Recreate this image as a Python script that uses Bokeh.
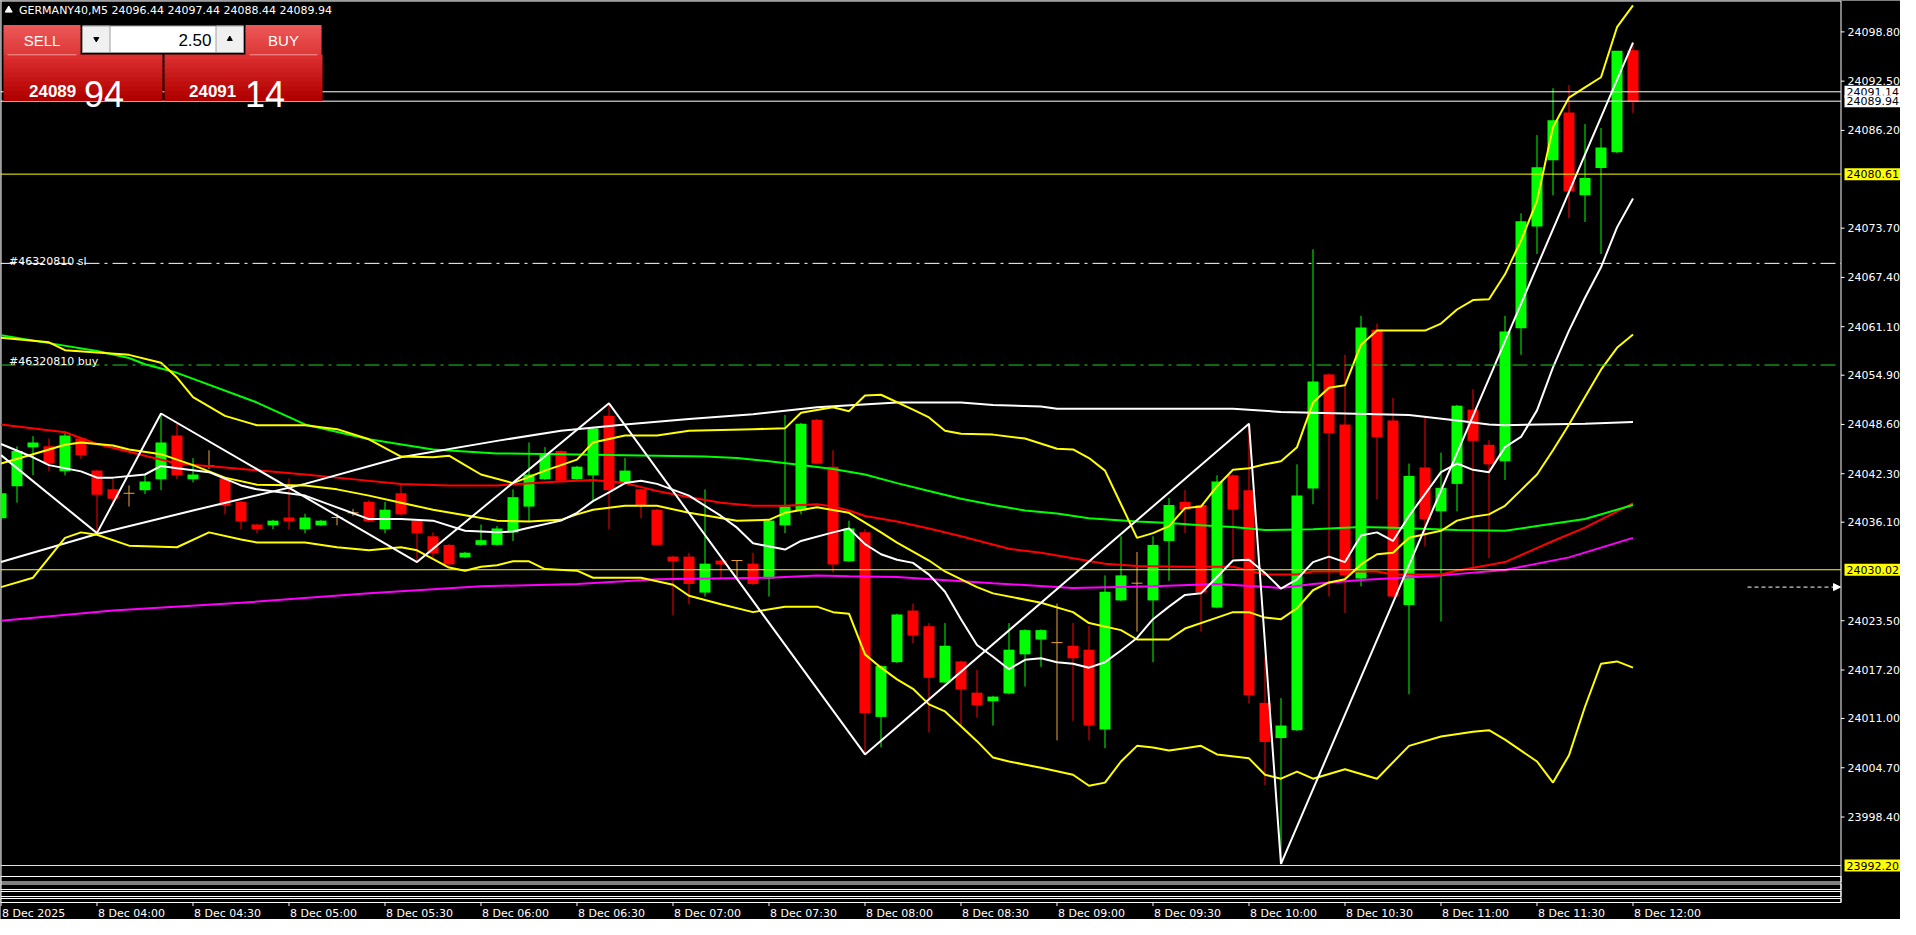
import numpy as np
from bokeh.plotting import figure
from bokeh.models import Range1d, Label, Arrow, NormalHead
from bokeh.embed import file_html
from bokeh.resources import INLINE

# ------------------------------------------------------------------ data
symbol = "GERMANY40,M5"
header_prices = ["24096.44", "24097.44", "24088.44", "24089.94"]
lot_size = "2.50"
bid_price = 24089.94
ask_price = 24091.14
bid_text = ("24089", "94")
ask_text = ("24091", "14")

bars = list(range(103))
opens = [24036.6, 24040.7, 24045.7, 24045.8, 24042.6, 24046.8, 24042.7, 24040.3, 24039.8, 24040.2,
         24041.6, 24047.2, 24041.6, 24043.3, 24041.7, 24038.7, 24035.8, 24035.7, 24036.7, 24035.2,
         24035.7, 24036.7, 24037.3, 24038.7, 24035.2, 24039.8, 24036.3, 24034.3, 24033.2, 24031.6,
         24033.2, 24033.2, 24034.8, 24038.1, 24041.6, 24045.2, 24041.6, 24042.1, 24049.7, 24041.2,
         24040.3, 24037.7, 24031.7, 24031.7, 24027.1, 24031.2, 24031.2, 24030.8, 24028.9, 24035.7,
         24037.6, 24049.2, 24043.2, 24031.1, 24034.8, 24011.2, 24018.2, 24024.8, 24022.8, 24015.6,
         24018.3, 24014.3, 24013.2, 24014.2, 24019.2, 24021.1, 24020.7, 24020.3, 24019.8, 24009.6,
         24026.1, 24028.3, 24026.1, 24033.7, 24038.7, 24038.3, 24025.2, 24042.1, 24040.2, 24013.0,
         24008.5, 24009.5, 24040.4, 24055.0, 24048.6, 24028.9, 24060.7, 24049.1, 24025.5, 24043.1,
         24037.5, 24041.0, 24050.5, 24046.0, 24043.9, 24060.9, 24073.9, 24082.4, 24088.5, 24077.9,
         24081.4, 24083.4, 24096.44]
highs = [24040.5, 24045.8, 24047.1, 24046.8, 24047.7, 24046.9, 24042.8, 24041.6, 24040.8, 24042.2,
         24050.0, 24048.7, 24044.3, 24045.3, 24041.8, 24038.8, 24035.9, 24036.4, 24041.7, 24037.2,
         24036.4, 24037.2, 24037.8, 24038.9, 24038.7, 24041.0, 24036.4, 24034.8, 24033.3, 24032.3,
         24035.8, 24035.6, 24040.3, 24046.3, 24045.7, 24045.3, 24043.3, 24048.2, 24051.3, 24044.3,
         24040.4, 24037.8, 24031.8, 24032.2, 24040.3, 24031.3, 24031.2, 24032.2, 24036.4, 24049.8,
         24048.8, 24049.3, 24045.3, 24036.3, 24035.2, 24017.8, 24024.4, 24025.7, 24023.2, 24023.2,
         24018.4, 24017.2, 24013.9, 24023.2, 24022.4, 24022.4, 24025.7, 24023.2, 24022.8, 24029.3,
         24034.3, 24032.3, 24034.3, 24039.2, 24040.2, 24038.4, 24042.1, 24042.2, 24048.7, 24018.9,
         24013.6, 24043.5, 24071.0, 24055.1, 24057.5, 24062.5, 24061.5, 24052.0, 24043.6, 24049.5,
         24045.0, 24051.1, 24053.1, 24046.6, 24062.5, 24075.6, 24085.6, 24091.6, 24092.0, 24087.0,
         24086.5, 24096.1, 24097.44]
lows = [24036.4, 24038.6, 24042.1, 24042.6, 24042.1, 24044.2, 24034.7, 24038.2, 24038.1, 24039.7,
        24040.2, 24041.6, 24041.2, 24042.9, 24037.1, 24035.2, 24034.7, 24035.2, 24035.2, 24034.7,
        24035.6, 24035.7, 24036.9, 24036.1, 24034.7, 24037.0, 24031.0, 24031.6, 24030.6, 24031.5,
        24033.1, 24033.1, 24033.7, 24036.2, 24041.5, 24041.3, 24041.5, 24038.8, 24035.2, 24041.1,
        24036.6, 24033.1, 24024.2, 24025.6, 24026.6, 24028.9, 24028.9, 24028.1, 24026.6, 24034.7,
        24037.1, 24043.5, 24029.7, 24031.0, 24006.4, 24007.3, 24018.1, 24020.6, 24009.2, 24015.5,
        24010.0, 24011.1, 24010.1, 24014.1, 24015.1, 24017.6, 24008.2, 24010.7, 24008.2, 24007.2,
        24026.0, 24022.1, 24018.2, 24028.6, 24034.7, 24022.1, 24025.1, 24031.5, 24012.9, 24002.5,
        23992.4, 24009.4, 24038.4, 24026.6, 24024.5, 24027.9, 24039.0, 24026.5, 24014.1, 24033.0,
        24023.4, 24037.5, 24030.1, 24031.5, 24041.5, 24057.5, 24070.4, 24077.9, 24075.0, 24074.5,
        24070.4, 24083.3, 24088.44]
closes = [24039.8, 24045.2, 24046.3, 24043.6, 24047.2, 24044.7, 24039.6, 24039.1, 24039.8, 24041.3,
          24046.3, 24042.1, 24042.2, 24043.3, 24038.2, 24036.2, 24035.2, 24036.3, 24036.2, 24036.7,
          24036.3, 24036.7, 24037.3, 24036.2, 24037.7, 24037.1, 24034.7, 24032.1, 24030.7, 24032.2,
          24033.8, 24035.3, 24039.3, 24042.2, 24044.7, 24041.4, 24043.2, 24048.1, 24040.2, 24042.7,
          24038.2, 24033.2, 24031.1, 24028.2, 24030.8, 24030.7, 24031.2, 24028.2, 24036.3, 24038.1,
          24048.7, 24043.6, 24030.7, 24035.3, 24011.7, 24017.7, 24024.3, 24021.6, 24016.2, 24020.3,
          24014.7, 24012.7, 24013.8, 24019.8, 24022.3, 24022.3, 24020.7, 24018.7, 24010.1, 24027.2,
          24029.3, 24028.3, 24033.2, 24038.3, 24037.7, 24027.1, 24041.3, 24037.7, 24014.0, 24008.0,
          24010.1, 24039.5, 24054.1, 24047.5, 24029.3, 24061.0, 24047.0, 24026.6, 24042.0, 24036.5,
          24040.5, 24051.0, 24046.5, 24043.5, 24060.5, 24074.6, 24081.5, 24087.5, 24078.4, 24080.1,
          24084.0, 24096.4, 24089.94]

time_tick_bars = [0, 6, 12, 18, 24, 30, 36, 42, 48, 54, 60, 66, 72, 78, 84, 90, 96, 102]
time_tick_labels = ["8 Dec 2025", "8 Dec 04:00", "8 Dec 04:30", "8 Dec 05:00", "8 Dec 05:30",
                    "8 Dec 06:00", "8 Dec 06:30", "8 Dec 07:00", "8 Dec 07:30", "8 Dec 08:00",
                    "8 Dec 08:30", "8 Dec 09:00", "8 Dec 09:30", "8 Dec 10:00", "8 Dec 10:30",
                    "8 Dec 11:00", "8 Dec 11:30", "8 Dec 12:00"]
price_ticks = [24098.80, 24092.50, 24086.20, 24073.70, 24067.40, 24061.10, 24054.90, 24048.60,
               24042.30, 24036.10, 24023.50, 24017.20, 24011.00, 24004.70, 23998.40]

bb_upper_bars = [0, 3, 4, 6, 8, 10, 11, 12, 14, 16, 18, 19, 21, 23, 25, 27, 28, 29, 30, 32,
                 34, 36, 37, 39, 41, 43, 47, 49, 50, 52, 53, 54, 55, 57, 58, 59, 60, 62, 64, 66,
                 67, 68, 69, 70, 71, 72, 73, 74, 75, 76, 77, 78, 79, 80, 81, 82, 83, 84, 85, 86,
                 89, 90, 91, 92, 93, 94, 95, 96, 97, 98, 99, 100, 101, 102]
bb_upper = [24059.7, 24059.1, 24058.1, 24057.8, 24057.5, 24056.5, 24054.6, 24052.1, 24049.7, 24048.5,
            24048.5, 24048.5, 24048.0, 24046.7, 24044.5, 24044.4, 24044.6, 24043.4, 24042.2, 24041.1,
            24042.7, 24044.1, 24046.3, 24047.2, 24047.2, 24047.8, 24048.0, 24048.1, 24050.1, 24050.8,
            24050.3, 24052.3, 24052.4, 24050.5, 24049.5, 24047.8, 24047.4, 24047.3, 24046.8, 24045.5,
            24045.4, 24044.3, 24042.7, 24038.4, 24034.1, 24034.7, 24035.6, 24037.9, 24038.1, 24040.7,
            24042.8, 24043.0, 24043.5, 24043.9, 24045.7, 24051.4, 24053.3, 24053.6, 24058.8, 24060.6,
            24060.6, 24061.5, 24063.3, 24064.5, 24064.6, 24067.8, 24072.1, 24077.2, 24086.6, 24090.4,
            24091.7, 24093.0, 24099.4, 24102.2]
bb_mid_bars = [0, 2, 4, 5, 7, 8, 10, 11, 12, 14, 16, 19, 21, 23, 25, 27, 29, 31, 33, 35,
               36, 37, 39, 41, 43, 46, 48, 49, 51, 53, 55, 56, 58, 59, 61, 62, 65, 67, 68, 70,
               71, 73, 74, 76, 77, 78, 79, 80, 81, 82, 83, 84, 85, 86, 87, 88, 90, 91, 92, 93,
               94, 95, 96, 97, 98, 99, 100, 101, 102]
bb_mid = [24043.6, 24044.8, 24046.0, 24046.3, 24045.9, 24045.4, 24044.8, 24044.1, 24043.4, 24041.8,
          24040.9, 24040.8, 24040.3, 24039.5, 24038.6, 24037.7, 24037.0, 24036.3, 24036.2, 24036.4,
          24037.1, 24037.7, 24038.2, 24038.2, 24037.3, 24036.3, 24036.4, 24037.3, 24038.0, 24037.3,
          24034.8, 24033.5, 24031.2, 24029.8, 24027.8, 24027.0, 24025.8, 24024.6, 24023.2, 24022.3,
          24021.1, 24021.1, 24022.5, 24023.9, 24024.6, 24024.6, 24023.9, 24023.7, 24025.1, 24027.4,
          24028.4, 24028.8, 24030.7, 24032.0, 24032.2, 24034.1, 24035.0, 24036.3, 24036.8, 24037.1,
          24038.2, 24040.2, 24042.2, 24045.3, 24048.6, 24052.1, 24055.6, 24058.4, 24060.1]
bb_lower_bars = [0, 2, 4, 5, 6, 8, 11, 13, 15, 16, 19, 21, 23, 25, 26, 28, 29, 30, 31, 32,
                 33, 34, 36, 37, 40, 42, 43, 45, 47, 49, 51, 52, 53, 54, 55, 56, 57, 58, 59, 60,
                 61, 62, 63, 65, 67, 68, 69, 70, 71, 72, 73, 74, 75, 76, 78, 79, 80, 81, 82, 84,
                 86, 88, 90, 92, 93, 94, 96, 97, 98, 99, 100, 101, 102]
bb_lower = [24027.8, 24029.0, 24034.1, 24034.8, 24034.5, 24033.1, 24032.9, 24034.8, 24033.9, 24033.5,
            24033.5, 24032.9, 24032.5, 24032.9, 24032.5, 24030.3, 24029.9, 24030.4, 24030.6, 24031.1,
            24031.1, 24030.1, 24029.9, 24029.0, 24029.0, 24028.1, 24026.7, 24025.6, 24024.6, 24025.3,
            24025.3, 24024.6, 24024.4, 24019.2, 24017.5, 24016.0, 24014.8, 24012.8, 24011.9, 24010.0,
            24008.1, 24006.0, 24005.5, 24004.7, 24003.8, 24002.4, 24002.8, 24005.5, 24007.5, 24007.3,
            24006.9, 24007.2, 24007.5, 24006.4, 24005.9, 24003.8, 24003.3, 24004.2, 24003.3, 24004.5,
            24003.3, 24007.5, 24008.7, 24009.3, 24009.5, 24008.3, 24005.5, 24002.8, 24006.3, 24012.5,
            24018.0, 24018.3, 24017.5]
ma_green_bars = [0, 3, 6, 8, 9, 11, 16, 19, 23, 27, 31, 35, 41, 44, 46, 48, 50, 52, 54, 56,
                 58, 60, 62, 64, 66, 68, 71, 73, 75, 77, 79, 82, 85, 87, 91, 94, 96, 99, 102]
ma_green = [24060.0, 24059.0, 24058.0, 24057.1, 24056.3, 24055.2, 24051.4, 24048.6, 24046.7, 24045.4,
            24044.9, 24044.8, 24044.6, 24044.5, 24044.3, 24043.9, 24043.4, 24042.9, 24042.2, 24041.1,
            24040.1, 24039.1, 24038.3, 24037.6, 24037.2, 24036.6, 24036.2, 24036.0, 24035.7, 24035.5,
            24035.1, 24035.2, 24035.5, 24035.4, 24035.1, 24035.0, 24035.6, 24036.5, 24038.3]
ma_red_bars = [0, 4, 6, 9, 11, 14, 19, 21, 25, 28, 31, 34, 37, 39, 41, 43, 45, 47, 49, 51,
               52, 53, 54, 56, 58, 60, 63, 65, 67, 69, 71, 74, 77, 79, 81, 82, 86, 87, 90, 91,
               94, 97, 99, 102]
ma_red = [24048.6, 24047.6, 24046.1, 24044.6, 24043.6, 24043.1, 24042.2, 24041.8, 24041.0, 24040.8,
          24040.8, 24041.2, 24041.5, 24041.1, 24040.1, 24039.3, 24038.6, 24038.2, 24038.2, 24038.4,
          24038.1, 24037.6, 24036.9, 24036.2, 24035.3, 24034.3, 24032.7, 24032.2, 24031.5, 24030.8,
          24030.5, 24030.4, 24030.4, 24029.4, 24029.4, 24029.8, 24029.8, 24029.4, 24029.4, 24029.9,
          24031.0, 24033.7, 24035.4, 24038.5]
ma_magenta_bars = [0, 7, 15, 23, 30, 36, 41, 48, 51, 53, 56, 62, 67, 72, 76, 80, 82, 85, 90, 94, 98, 102]
ma_magenta = [24023.5, 24024.8, 24025.8, 24027.0, 24027.9, 24028.2, 24028.8, 24029.0, 24029.3, 24029.2,
              24029.1, 24028.3, 24027.7, 24027.9, 24028.2, 24027.7, 24028.2, 24028.7, 24029.3, 24030.0,
              24031.6, 24034.1]
ma_slow_white_bars = [0, 6, 12, 19, 25, 31, 35, 39, 43, 47, 51, 56, 60, 62, 65, 66, 77, 80, 86, 88,
                      91, 93, 94, 99, 102]
ma_slow_white = [24031.0, 24034.6, 24037.6, 24041.0, 24044.4, 24046.5, 24047.8, 24048.6, 24049.3, 24049.9,
                 24050.8, 24051.4, 24051.4, 24051.1, 24050.9, 24050.6, 24050.6, 24050.2, 24049.9, 24049.8,
                 24049.1, 24048.6, 24048.5, 24048.7, 24048.9]
ma_fast_white_bars = [0, 2, 3, 5, 6, 7, 9, 10, 11, 13, 15, 16, 19, 21, 23, 25, 27, 29, 31, 32,
                      33, 35, 36, 37, 38, 39, 40, 41, 43, 45, 46, 47, 49, 50, 52, 53, 54, 55, 56, 57,
                      58, 59, 60, 61, 62, 63, 64, 65, 66, 67, 68, 69, 70, 71, 72, 73, 74, 75, 76, 77,
                      78, 79, 80, 81, 82, 83, 84, 85, 86, 87, 88, 89, 90, 91, 92, 93, 94, 95, 96, 97,
                      98, 99, 100, 101, 102]
ma_fast_white = [24046.1, 24044.4, 24043.4, 24042.6, 24041.8, 24041.8, 24042.2, 24043.3, 24043.0, 24042.5,
                 24040.8, 24040.3, 24039.5, 24038.0, 24036.5, 24036.5, 24036.3, 24035.0, 24034.8, 24034.9,
                 24035.4, 24036.3, 24037.3, 24038.8, 24039.9, 24041.1, 24041.4, 24041.0, 24039.5, 24036.9,
                 24035.4, 24033.4, 24032.6, 24033.7, 24034.8, 24035.3, 24033.3, 24032.0, 24031.3, 24030.9,
                 24029.4, 24027.2, 24023.7, 24020.4, 24018.9, 24017.3, 24018.5, 24018.7, 24018.2, 24018.0,
                 24017.5, 24018.2, 24019.7, 24021.3, 24023.7, 24025.3, 24026.8, 24027.0, 24029.1, 24031.2,
                 24031.3, 24029.6, 24027.6, 24028.8, 24031.0, 24031.7, 24031.0, 24034.4, 24034.8, 24033.7,
                 24036.9, 24039.7, 24042.5, 24043.6, 24042.8, 24042.5, 24045.7, 24047.0, 24050.4, 24055.9,
                 24060.6, 24064.8, 24068.7, 24073.8, 24077.5]
zigzag_bars = [-2, 6, 10, 26, 38, 54, 78, 80, 102]
zigzag_vals = [24048.0, 24034.7, 24050.0, 24031.0, 24051.3, 24006.4, 24048.7, 23992.4, 24097.44]

level_lines = [24080.61, 24030.02, 23992.20]
order_name = "#46320810"
sl_price = 24069.2
entry_price = 24056.2
shift_marker_price = 24027.8

# ------------------------------------------------------------------ geometry (screen px of the chart window)
BAR0_PX, BAR_PX = 3.5, 16.0
ANCHOR_PRICE, ANCHOR_PX, PX_PER_PT = 23992.2, 868.0, 7.82
CANVAS_L, CANVAS_R, CANVAS_T, CANVAS_B = 3.0, 1903.0, 3.0, 922.0
CHART_R, CHART_B = 1843.5, 905.0


def bx(px):
    return (px - BAR0_PX) / BAR_PX


def py(px):
    return ANCHOR_PRICE + (ANCHOR_PX - px) / PX_PER_PT


def mix(c0, c1, t):
    a = [int(c0[k:k + 2], 16) for k in (1, 3, 5)]
    b = [int(c1[k:k + 2], 16) for k in (1, 3, 5)]
    return "#%02x%02x%02x" % tuple(int(round(a[k] + (b[k] - a[k]) * t)) for k in range(3))


FONT = "DejaVu Sans"
BULL, BEAR, DOJI = "#00FF00", "#FF0000", "#EBA43A"

p = figure(frame_width=int(CANVAS_R - CANVAS_L), frame_height=int(CANVAS_B - CANVAS_T),
           x_range=Range1d(bx(CANVAS_L), bx(CANVAS_R)), y_range=Range1d(py(CANVAS_B), py(CANVAS_T)),
           output_backend="svg", toolbar_location=None,
           x_axis_location=None, y_axis_location=None,
           background_fill_color="black", border_fill_color="black",
           min_border_left=0, min_border_top=0, min_border_right=0, min_border_bottom=0,
           outline_line_color=None)
p.xgrid.visible = False
p.ygrid.visible = False

xmin, xmax = bx(CANVAS_L), bx(CHART_R)

# --------------------------------------------------------------- window frame + sub-windows
sub_boxes = [(879, 884.5), (886.5, 892), (894, 899), (901, 905)]
p.quad(left=[xmin] * 4, right=[xmax] * 4, top=[py(a) for a, b in sub_boxes],
       bottom=[py(b) for a, b in sub_boxes], fill_color="black", line_color="white", line_width=1)
p.segment(x0=[bx(3.5), bx(CHART_R), bx(3.5)], y0=[py(3.5), py(3.5), py(3.5)],
          x1=[bx(3.5), bx(CHART_R), bx(CHART_R)], y1=[py(CHART_B), py(CHART_B), py(3.5)],
          line_color="white", line_width=1)

# price scale
p.segment(x0=[bx(CHART_R)] * len(price_ticks), y0=price_ticks,
          x1=[bx(CHART_R + 3.5)] * len(price_ticks), y1=price_ticks, line_color="white", line_width=1)
for t in price_ticks:
    p.add_layout(Label(x=bx(1850), y=t, text="%.2f" % t, text_color="white", text_font=FONT,
                       text_font_size="11px", text_baseline="middle", text_align="left"))

# time scale
p.segment(x0=time_tick_bars, y0=[py(CHART_B)] * len(time_tick_bars),
          x1=time_tick_bars, y1=[py(CHART_B + 3.5)] * len(time_tick_bars), line_color="white", line_width=1)
for b, t in zip(time_tick_bars, time_tick_labels):
    p.add_layout(Label(x=b + 1.0 / BAR_PX, y=py(909), text=t, text_color="white", text_font=FONT,
                       text_font_size="11px", text_baseline="top", text_align="left"))

# --------------------------------------------------------------- candles
o = np.array(opens)
h = np.array(highs)
l = np.array(lows)
c = np.array(closes)
x = np.array(bars, dtype=float)
up = c > o
dn = c < o
dj = ~(up | dn)
wick_col = np.where(up, BULL, np.where(dn, BEAR, DOJI))
p.segment(x0=x, y0=h, x1=x, y1=l, line_color=list(wick_col), line_width=1)
BODY_W = 11.0 / BAR_PX
min_h = 1.0 / PX_PER_PT
body = ~dj
btop = np.maximum(o, c)[body]
bbot = np.minimum(o, c)[body]
btop = np.maximum(btop, bbot + min_h)
p.vbar(x=x[body], width=BODY_W, top=btop, bottom=bbot,
       fill_color=list(np.where(up[body], BULL, BEAR)), line_color=None)
p.segment(x0=x[dj] - BODY_W / 2, y0=o[dj], x1=x[dj] + BODY_W / 2, y1=o[dj],
          line_color=DOJI, line_width=1)

# --------------------------------------------------------------- indicators
p.line(ma_magenta_bars, ma_magenta, line_color="#FF00FF", line_width=2)
p.line(ma_red_bars, ma_red, line_color="#FF0000", line_width=2)
p.line(ma_green_bars, ma_green, line_color="#00FF00", line_width=2)
p.line(ma_slow_white_bars, ma_slow_white, line_color="white", line_width=2)
p.line(bb_upper_bars, bb_upper, line_color="#FFFF00", line_width=2)
p.line(bb_mid_bars, bb_mid, line_color="#FFFF00", line_width=2)
p.line(bb_lower_bars, bb_lower, line_color="#FFFF00", line_width=2)
p.line(ma_fast_white_bars, ma_fast_white, line_color="white", line_width=2)
zx = [max(b, bx(3.5)) for b in zigzag_bars]
zy = list(zigzag_vals)
# clip the first zigzag leg at the left window border
zy[0] = zigzag_vals[0] + (zigzag_vals[1] - zigzag_vals[0]) * (zx[0] - zigzag_bars[0]) / (zigzag_bars[1] - zigzag_bars[0])
p.line(zx, zy, line_color="white", line_width=2)

# --------------------------------------------------------------- horizontal objects
p.segment(x0=[xmin] * 3, y0=level_lines, x1=[xmax] * 3, y1=level_lines, line_color="#FFFF00", line_width=1)
p.segment(x0=[xmin] * 2, y0=[ask_price, bid_price], x1=[xmax] * 2, y1=[ask_price, bid_price],
          line_color="white", line_width=1)
p.segment(x0=[xmin], y0=[sl_price], x1=[xmax], y1=[sl_price], line_color="white",
          line_width=1, line_dash="15 5 3 5")
p.segment(x0=[xmin], y0=[entry_price], x1=[xmax], y1=[entry_price], line_color="#1FD01F",
          line_width=1, line_dash="15 5 3 5")

for txt, yb in [(order_name + " sl", 263.5), (order_name + " buy", 363.5)]:
    p.add_layout(Label(x=bx(11.5), y=py(yb), text=txt, text_color="white", text_font=FONT,
                       text_font_size="11px", text_baseline="alphabetic", text_align="left"))

p.add_layout(Arrow(end=NormalHead(size=7, fill_color="white", line_color="white", line_width=1),
                   x_start=bx(1750), y_start=shift_marker_price, x_end=bx(1843), y_end=shift_marker_price,
                   line_color="white", line_width=1, line_dash="4 3"))

# --------------------------------------------------------------- header
p.scatter(x=[bx(11.2)], y=[py(12.6)], marker="triangle", size=7, fill_color="white", line_color="white")
p.add_layout(Label(x=bx(21.5), y=py(12.5), text=symbol + "  " + " ".join(header_prices),
                   text_color="white", text_font=FONT, text_font_size="11px",
                   text_baseline="middle", text_align="left"))


# --------------------------------------------------------------- one-click trading panel
def grad_box(x0, y0, x1, y1, c0, c1, n=10):
    ys = np.linspace(y0, y1, n + 1)
    cols = [mix(c0, c1, k / (n - 1)) for k in range(n)]
    p.quad(left=[bx(x0)] * n, right=[bx(x1)] * n,
           top=[py(ys[k] - 0.4) for k in range(n)], bottom=[py(ys[k + 1] + 0.4) for k in range(n)],
           fill_color=cols, line_color=None)


grad_box(6, 28, 83, 57.3, "#EC5656", "#DE3A3A")
grad_box(248, 28, 324, 57.3, "#EC5656", "#DE3A3A")
grad_box(6, 57.3, 165, 103, "#DC2E2E", "#B00000")
grad_box(167, 57.3, 325, 103, "#DC2E2E", "#B00000")
p.segment(x0=[bx(10), bx(252)], y0=[py(57.3)] * 2, x1=[bx(79), bx(320)], y1=[py(57.3)] * 2,
          line_color="#F29A9A", line_width=1)
# lot box
p.quad(left=[bx(85)], right=[bx(246)], top=[py(28.5)], bottom=[py(55)],
       fill_color="white", line_color="#9E9E9E", line_width=1)
p.quad(left=[bx(85), bx(218.5)], right=[bx(112.5), bx(246)], top=[py(28.5)] * 2, bottom=[py(55)] * 2,
       fill_color="#F0F0F0", line_color="#9E9E9E", line_width=1)
p.scatter(x=[bx(98.8)], y=[py(41.5)], marker="inverted_triangle", size=5, fill_color="black", line_color="black")
p.scatter(x=[bx(232.3)], y=[py(41.5)], marker="triangle", size=5, fill_color="black", line_color="black")
p.add_layout(Label(x=bx(214), y=py(42.5), text=lot_size, text_color="black", text_font="Liberation Sans",
                   text_font_size="17px", text_baseline="middle", text_align="right"))
p.add_layout(Label(x=bx(44.5), y=py(43), text="SELL", text_color="white", text_font="Liberation Sans",
                   text_font_size="15px", text_baseline="middle", text_align="center"))
p.add_layout(Label(x=bx(286), y=py(43), text="BUY", text_color="white", text_font="Liberation Sans",
                   text_font_size="15px", text_baseline="middle", text_align="center"))
for (big, small), xs, xb in [(bid_text, 31.5, 86.5), (ask_text, 191.5, 247.5)]:
    p.add_layout(Label(x=bx(xs), y=py(93.5), text=big, text_color="white", text_font="Liberation Sans",
                       text_font_size="17px", text_font_style="bold", text_baseline="alphabetic",
                       text_align="left"))
    p.add_layout(Label(x=bx(xb), y=py(96), text=small, text_color="white", text_font="Liberation Sans",
                       text_font_size="36px", text_baseline="alphabetic", text_align="left"))

# --------------------------------------------------------------- price tags on the right scale
for price, bg in [(ask_price, "white"), (bid_price, "white"), (level_lines[0], "#FFFF00"),
                  (level_lines[1], "#FFFF00"), (level_lines[2], "#FFFF00")]:
    p.add_layout(Label(x=bx(1847), y=price, text="%.2f" % price, text_color="black", text_font=FONT,
                       text_font_size="11px", text_baseline="middle", text_align="left",
                       background_fill_color=bg, padding=2))

open("out.html", "w").write(file_html(p, INLINE))
